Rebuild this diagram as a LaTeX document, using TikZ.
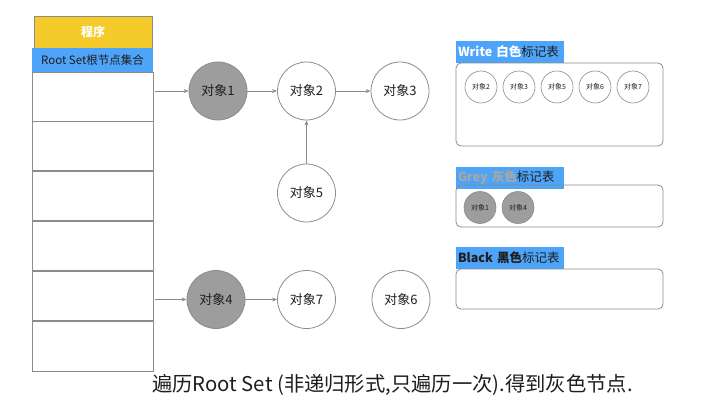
\documentclass[tikz,border=0pt]{standalone}
\usepackage{fontspec}
\setmainfont{Noto Sans CJK SC}
\usetikzlibrary{arrows.meta, positioning}

\definecolor{progyellow}{HTML}{F5CB2B}
\definecolor{rootblue}{HTML}{4EA4F8}
\definecolor{linegray}{HTML}{8C8C8C}
\definecolor{greyfill}{HTML}{9D9D9D}
\definecolor{greytext}{HTML}{ADA79C}
\definecolor{inkdark}{HTML}{1E1E1E}

\begin{document}
\begin{tikzpicture}[
  x=1pt, y=-1pt,
  obj/.style={
    circle, draw=linegray, line width=0.8pt, minimum size=58pt, inner sep=0pt,
    font=\fontsize{13}{13}\selectfont, text=inkdark
  },
  greyobj/.style={obj, fill=greyfill},
  mini/.style={
    circle, draw=linegray, line width=0.6pt, minimum size=32pt, inner sep=0pt,
    font=\fontsize{7}{7}\selectfont, text=inkdark
  },
  greymini/.style={mini, fill=greyfill},
  cell/.style={draw=linegray, line width=0.8pt, minimum width=121pt, minimum height=49pt, inner sep=0pt},
  tag/.style={
    fill=rootblue, minimum height=22pt, inner sep=2pt, text width=104pt,
    align=left, font=\fontsize{12.5}{12.5}\selectfont, text=inkdark
  },
  panel/.style={draw=linegray, line width=0.8pt, rounded corners=5pt, minimum width=207pt, inner sep=0pt},
  link/.style={-{Stealth[length=5pt, width=4pt]}, linegray, line width=0.8pt}
]
\useasboundingbox (0,0) rectangle (703,409);

% Program and root set column
\node[draw=linegray, fill=progyellow, minimum width=118pt, minimum height=32pt, inner sep=0pt,
  font=\fontsize{12}{12}\selectfont\bfseries, text=white] (prog) at (93, 32) {程序};
\node[fill=rootblue, minimum width=121pt, minimum height=24pt, inner sep=0pt,
  font=\fontsize{11.5}{11.5}\selectfont, text=inkdark] (rootset) at (92.5, 60) {Root Set根节点集合};
\node[cell] (cell1) at (92.5, 96.5) {};
\node[cell, below=0pt of cell1] (cell2) {};
\node[cell, below=0pt of cell2] (cell3) {};
\node[cell, below=0pt of cell3] (cell4) {};
\node[cell, below=0pt of cell4] (cell5) {};
\node[cell, below=0pt of cell5, minimum height=50pt] (cell6) {};

% Object graph
\node[greyobj] (obj1) at (218, 91) {对象1};
\node[obj] (obj2) at (306.5, 91) {对象2};
\node[obj] (obj3) at (400, 91) {对象3};
\node[obj] (obj5) at (306.5, 193) {对象5};
\node[greyobj] (obj4) at (216, 299.5) {对象4};
\node[obj] (obj7) at (306.5, 299.5) {对象7};
\node[obj] (obj6) at (401, 299.5) {对象6};

\draw[link, shorten <=2pt] (cell1.east |- obj1.west) -- (obj1.west);
\draw[link, shorten <=2pt] (cell5.east |- obj4.west) -- (obj4.west);
\draw[link] (obj1) -- (obj2);
\draw[link] (obj2) -- (obj3);
\draw[link] (obj5) -- (obj2);
\draw[link] (obj4) -- (obj7);

% White mark table
\node[tag] (writetag) at (510, 52) {\textcolor{white}{\bfseries Write 白色}标记表};
\node[panel, minimum height=83pt] (writepanel) at (559.5, 104.5) {};
\node[mini] (w2) at (481, 87) {对象2};
\node[mini] (w3) at (519, 87) {对象3};
\node[mini] (w5) at (557, 87) {对象5};
\node[mini] (w6) at (595, 87) {对象6};
\node[mini] (w7) at (633, 87) {对象7};

% Grey mark table
\node[tag] (greytag) at (510, 177.5) {\textcolor{greytext}{\bfseries Grey 灰色}标记表};
\node[panel, minimum height=42pt] (greypanel) at (559.5, 206) {};
\node[greymini] (g1) at (480, 207.5) {对象1};
\node[greymini] (g4) at (518, 207.5) {对象4};

% Black mark table
\node[tag] (blacktag) at (510, 258) {{\bfseries Black 黑色}标记表};
\node[panel, minimum height=40pt] (blackpanel) at (559.5, 289) {};

% Caption
\node[anchor=west, font=\fontsize{20.3}{20.3}\selectfont, text=inkdark, inner sep=0pt] (caption) at (152, 385)
  {遍历Root Set (非递归形式,只遍历一次).得到灰色节点.};

\end{tikzpicture}
\end{document}
